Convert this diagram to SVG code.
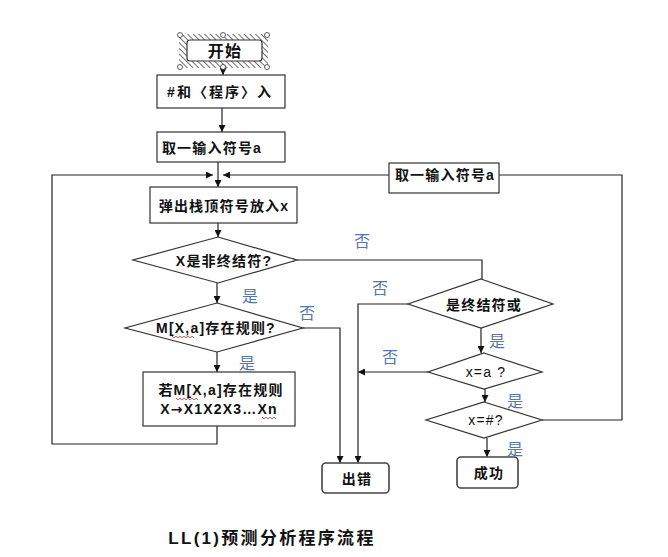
<svg xmlns="http://www.w3.org/2000/svg" width="668" height="557" viewBox="0 0 668 557">
  <defs>
    <pattern id="hatch" width="4" height="4" patternUnits="userSpaceOnUse" patternTransform="rotate(-45)">
      <rect width="4" height="4" fill="#fff"/>
      <line x1="0" y1="0" x2="0" y2="4" stroke="#333" stroke-width="1.4"/>
    </pattern>
    <marker id="arr" viewBox="0 0 10 10" refX="10" refY="5" markerWidth="7" markerHeight="7" orient="auto" markerUnits="userSpaceOnUse">
      <path d="M0,0 L10,5 L0,10 z" fill="#111"/>
    </marker>
  </defs>
  <style>
    .box { fill: #fff; stroke: #333; stroke-width: 1.2; }
    .rbox { fill: #fff; stroke: #444; stroke-width: 1.6; }
    .dia { fill: #fff; stroke: #333; stroke-width: 1.2; }
    .line { fill: none; stroke: #222; stroke-width: 1.2; }
    .t { font-family: "Liberation Sans", "Noto Sans CJK SC", sans-serif; font-weight: bold; font-size: 14px; fill: #111; text-anchor: middle; dominant-baseline: central; letter-spacing: 1.2px; }
    .yn { font-family: "Noto Sans CJK SC", sans-serif; font-size: 16px; fill: #5677A8; text-anchor: middle; dominant-baseline: central; }
    .sq { fill: none; stroke: #e03030; stroke-width: 0.8; }
    .h { fill: #fff; stroke: #333; stroke-width: 0.8; }
  </style>

  <rect width="668" height="557" fill="#fff"/>

  <!-- connectors -->
  <g id="connectors">
    <line class="line" x1="223" y1="64" x2="223" y2="75" marker-end="url(#arr)"/>
    <line class="line" x1="222" y1="108" x2="222" y2="132" marker-end="url(#arr)"/>
    <line class="line" x1="218" y1="162" x2="218" y2="187" marker-end="url(#arr)"/>
    <!-- loop back from rule box -->
    <polyline class="line" points="217,426 217,444 52,444 52,175 213,175" marker-end="url(#arr)"/>
    <!-- loop back from right input box -->
    <line class="line" x1="389" y1="175" x2="223" y2="175" marker-end="url(#arr)"/>
    <line class="line" x1="218" y1="223" x2="218" y2="237" marker-end="url(#arr)"/>
    <!-- X non-terminal? no -->
    <polyline class="line" points="297,260 482,260 482,279"/>
    <circle cx="293" cy="260" r="1.8" fill="#111"/>
    <line class="line" x1="217" y1="283" x2="217" y2="303" marker-end="url(#arr)"/>
    <!-- M[X,a] no -> error -->
    <polyline class="line" points="303,328 340,328 340,463" marker-end="url(#arr)"/>
    <line class="line" x1="217" y1="352" x2="217" y2="372" marker-end="url(#arr)"/>
    <!-- terminal? no -> error -->
    <polyline class="line" points="408,304 358,304 358,463" marker-end="url(#arr)"/>
    <line class="line" x1="481" y1="328" x2="481" y2="353" marker-end="url(#arr)"/>
    <line class="line" x1="428" y1="372" x2="358" y2="372" marker-end="url(#arr)"/>
    <line class="line" x1="485" y1="389" x2="485" y2="402" marker-end="url(#arr)"/>
    <line class="line" x1="487" y1="438" x2="487" y2="457" marker-end="url(#arr)"/>
    <!-- x=#? no -> next input -->
    <polyline class="line" points="542,420 622,420 622,175 499,175"/>
  </g>

  <!-- start -->
  <g id="start">
    <rect x="179" y="34" width="89" height="34" fill="url(#hatch)"/>
    <rect class="box" x="187" y="40" width="75" height="21" rx="3"/>
    <circle class="h" cx="180" cy="35" r="2.5"/>
    <circle class="h" cx="223" cy="35" r="2.5"/>
    <circle class="h" cx="267" cy="35" r="2.5"/>
    <circle class="h" cx="180" cy="67" r="2.5"/>
    <circle class="h" cx="223" cy="67" r="2.5"/>
    <circle class="h" cx="267" cy="67" r="2.5"/>
    <text class="t" x="225" y="51" style="font-size:16px">开始</text>
  </g>

  <g id="init">
    <rect class="box" x="157" y="75" width="128" height="33"/>
    <text class="t" x="220" y="92" style="letter-spacing:2px">#和〈程序〉入</text>
  </g>

  <g id="read1">
    <rect class="box" x="157" y="132" width="128" height="30"/>
    <text class="t" x="212" y="148">取一输入符号a</text>
  </g>

  <g id="pop">
    <rect class="box" x="150" y="187" width="147" height="36"/>
    <text class="t" x="224" y="206">弹出栈顶符号放入x</text>
  </g>

  <g id="isNonTerminal">
    <polygon class="dia" points="218,237 297,260 218,283 133,260"/>
    <text class="t" x="224" y="261">X是非终结符?</text>
  </g>

  <g id="hasRule">
    <polygon class="dia" points="217,303 303,328 217,352 125,328"/>
    <text class="t" x="216" y="328">M[X,a]存在规则?</text>
    <path class="sq" d="M172,336 l2,2 l2,-2 l2,2 l2,-2 l2,2 l2,-2 l2,2 l2,-2 l2,2 l2,-2 l2,2"/>
  </g>

  <g id="expand">
    <rect class="box" x="143" y="372" width="152" height="54"/>
    <text class="t" x="221" y="390">若M[X,a]存在规则</text>
    <text class="t" x="219" y="409">X<tspan style="font-family:'DejaVu Sans',sans-serif">→</tspan>X1X2X3…Xn</text>
    <path class="sq" d="M176,398 l2,2 l2,-2 l2,2 l2,-2 l2,2 l2,-2 l2,2 l2,-2 l2,2 l2,-2 l2,2"/>
    <path class="sq" d="M262,417 l2,2 l2,-2 l2,2 l2,-2 l2,2 l2,-2 l2,2"/>
  </g>

  <g id="read2">
    <rect class="box" x="389" y="163" width="110" height="30"/>
    <text class="t" x="445" y="175">取一输入符号a</text>
  </g>

  <g id="isTerminal">
    <polygon class="dia" points="481,279 553,304 481,328 408,304"/>
    <text class="t" x="484" y="305">是终结符或</text>
  </g>

  <g id="eqA">
    <polygon class="dia" points="484,353 542,372 484,389 428,372"/>
    <text class="t" x="486" y="372" style="font-weight:normal">x=a ?</text>
  </g>

  <g id="eqHash">
    <polygon class="dia" points="484,402 542,420 484,438 426,420"/>
    <text class="t" x="486" y="420" style="font-weight:normal">x=#?</text>
  </g>

  <g id="error">
    <rect class="rbox" x="322" y="463" width="67" height="30" rx="4"/>
    <text class="t" x="357" y="479">出错</text>
  </g>

  <g id="success">
    <rect class="rbox" x="457" y="457" width="61" height="31" rx="4"/>
    <text class="t" x="489" y="473">成功</text>
  </g>

  <!-- branch labels -->
  <g id="labels">
    <text class="yn" x="362" y="240">否</text>
    <text class="yn" x="250" y="295">是</text>
    <text class="yn" x="307" y="312">否</text>
    <text class="yn" x="380" y="287">否</text>
    <text class="yn" x="247" y="362">是</text>
    <text class="yn" x="497" y="340">是</text>
    <text class="yn" x="390" y="356">否</text>
    <text class="yn" x="515" y="400">是</text>
    <text class="yn" x="515" y="448">是</text>
  </g>

  <text class="t" x="272" y="538" style="font-size:17px;letter-spacing:2.3px">LL(1)预测分析程序流程</text>
</svg>
